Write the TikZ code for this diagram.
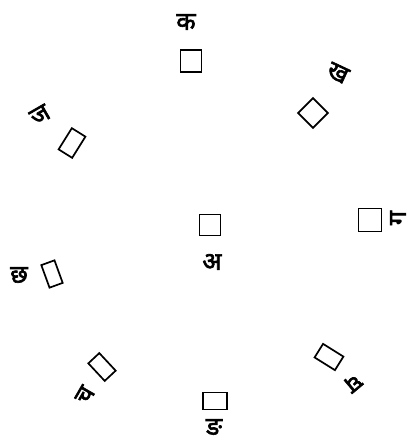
\documentclass[tikz,border=0pt]{standalone}
\usepackage{fontspec}
\newfontfamily\deva[Script=Devanagari,FakeBold=2.5]{Noto Sans}
\begin{document}
\begin{tikzpicture}[x=1pt,y=-1pt,
  box/.style={draw,line width=1.7pt,inner sep=0pt,minimum width=#1},
  box/.default=21pt,
  lab/.style={inner sep=0pt,font=\deva\fontsize{25}{26}\selectfont}]
\useasboundingbox (0,0) rectangle (412,442);
% center
\node[box,minimum height=21pt] (c) at (210,225) {};
\node[lab] (lc) at (212,262) {अ};
% top
\node[box,minimum height=22pt] (n1) at (191,61) {};
\node[lab] (l1) at (186,22) {क};
% top right
\node[box,minimum height=21pt,rotate=45] (n2) at (313,113) {};
\node[lab,rotate=-25] (l2) at (338,73) {ख};
% right
\node[box=23pt,minimum height=23pt] (n3) at (370,220) {};
\node[lab,rotate=90] (l3) at (398,218) {ग};
% bottom right
\node[box=24pt,minimum height=16pt,rotate=-32] (n4) at (329,357) {};
\node[lab,rotate=-140] (l4) at (353,383) {घ};
% bottom
\node[box=24pt,minimum height=17pt] (n5) at (215,401) {};
\node[lab] (l5) at (214,427) {ङ};
% bottom left
\node[box=24pt,minimum height=15pt,rotate=-47] (n6) at (102,367) {};
\node[lab,rotate=60] (l6) at (85,395) {च};
% left
\node[box=14pt,minimum height=24pt,rotate=20] (n7) at (52,274) {};
\node[lab] (l7) at (19,275) {छ};
% top left
\node[box=16pt,minimum height=25pt,rotate=-32] (n8) at (72,143) {};
\node[lab,rotate=30] (l8) at (40,115) {ज};
\end{tikzpicture}
\end{document}
